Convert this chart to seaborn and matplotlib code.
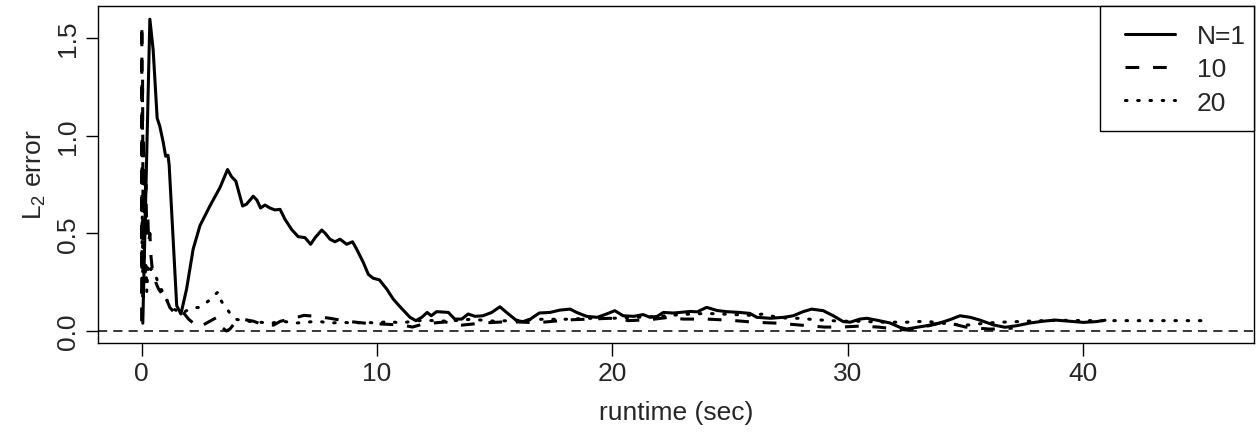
import numpy as np
import pandas as pd
import matplotlib
matplotlib.use("Agg")
import matplotlib.pyplot as plt
from matplotlib.patches import Rectangle
import seaborn as sns

# L2 error versus runtime for three ensemble sizes N
n1_runtime = [0.05, 0.35, 0.49, 0.66, 0.77, 0.92, 1.02, 1.12, 1.17, 1.49,
              1.67, 1.91, 2.19, 2.48, 2.9, 3.33, 3.65, 3.82, 4.0, 4.29,
              4.46, 4.74, 4.9, 5.05, 5.24, 5.45, 5.66, 5.88, 6.09, 6.37,
              6.65, 6.94, 7.18, 7.37, 7.65, 7.8, 8.0, 8.21, 8.43, 8.71,
              8.96, 9.13, 9.42, 9.63, 9.84, 10.1, 10.41, 10.69, 10.97, 11.4,
              11.65, 11.9, 12.13, 12.3, 12.53, 13.03, 13.3, 13.6, 13.87, 14.16,
              14.5, 14.87, 15.22, 15.5, 15.93, 16.2, 16.5, 16.89, 17.35, 17.77,
              18.2, 18.48, 18.9, 19.35, 19.75, 20.1, 20.45, 20.9, 21.3, 21.6,
              21.9, 22.16, 22.58, 22.87, 23.3, 23.6, 24.0, 24.44, 24.85, 25.4,
              25.84, 26.13, 26.7, 27.27, 27.68, 28.1, 28.46, 28.95, 29.38, 29.8,
              30.1, 30.51, 30.8, 31.2, 31.79, 32.2, 32.5, 32.94, 33.35, 33.9,
              34.34, 34.76, 35.2, 35.6, 36.18, 36.67, 37.17, 37.74, 38.3, 38.8,
              39.4, 40.0, 40.55, 40.92]
n1_error = [0.04, 1.597, 1.44, 1.09, 1.05, 0.965, 0.895, 0.9, 0.85, 0.13,
            0.087, 0.215, 0.42, 0.54, 0.64, 0.735, 0.827, 0.79, 0.768, 0.64,
            0.65, 0.69, 0.67, 0.63, 0.645, 0.63, 0.62, 0.623, 0.572, 0.52,
            0.483, 0.478, 0.444, 0.478, 0.517, 0.5, 0.47, 0.457, 0.47, 0.444,
            0.457, 0.42, 0.35, 0.29, 0.27, 0.262, 0.215, 0.163, 0.125, 0.07,
            0.053, 0.07, 0.095, 0.078, 0.099, 0.095, 0.061, 0.061, 0.087, 0.075,
            0.078, 0.095, 0.124, 0.095, 0.053, 0.048, 0.06, 0.092, 0.095, 0.107,
            0.112, 0.095, 0.075, 0.07, 0.087, 0.104, 0.078, 0.075, 0.084, 0.07,
            0.075, 0.095, 0.092, 0.095, 0.1, 0.098, 0.121, 0.105, 0.099, 0.095,
            0.09, 0.07, 0.065, 0.07, 0.078, 0.099, 0.112, 0.104, 0.078, 0.048,
            0.045, 0.061, 0.065, 0.056, 0.041, 0.019, 0.01, 0.019, 0.027, 0.041,
            0.058, 0.078, 0.07, 0.056, 0.031, 0.019, 0.027, 0.041, 0.05, 0.056,
            0.05, 0.044, 0.048, 0.055]

n10_runtime = [0.0, 0.01, 0.02, 0.04, 0.06, 0.08, 0.1, 0.12, 0.15, 0.18,
               0.22, 0.26, 0.3, 0.35, 0.4, 0.45, 0.5, 0.6, 0.7, 0.8,
               0.9, 1.0, 1.1, 1.2, 1.35, 1.5, 1.65, 1.8, 2.0, 2.2,
               2.35, 2.6, 2.9, 3.2, 3.4, 3.6, 3.75, 3.95, 4.3, 4.75,
               5.2, 5.6, 5.9, 6.3, 6.9, 7.4, 8.0, 8.7, 9.5, 10.3,
               11.1, 11.5, 12.0, 12.9, 13.6, 14.5, 15.3, 16.0, 16.8, 17.5,
               18.35, 19.05, 19.9, 20.7, 21.6, 22.4, 23.0, 24.0, 25.0, 26.0,
               27.0, 28.0, 29.0, 29.7, 30.5, 31.3, 32.0, 32.5, 33.2, 33.9,
               34.5, 35.0, 35.5, 36.0, 36.5, 37.0]
n10_error = [0.05, 1.57, 0.3, 1.3, 0.6, 1.0, 0.45, 0.8, 0.55, 0.75,
             0.5, 0.6, 0.45, 0.5, 0.38, 0.32, 0.3, 0.25, 0.22, 0.2,
             0.22, 0.18, 0.15, 0.12, 0.1, 0.08, 0.1, 0.09, 0.06, 0.04,
             0.02, 0.03, 0.05, 0.07, 0.02, 0.0, 0.01, 0.04, 0.06, 0.05,
             0.03, 0.03, 0.05, 0.06, 0.08, 0.075, 0.065, 0.05, 0.04, 0.035,
             0.03, 0.02, 0.037, 0.046, 0.03, 0.041, 0.046, 0.046, 0.042, 0.05,
             0.058, 0.061, 0.065, 0.053, 0.058, 0.07, 0.061, 0.061, 0.055, 0.045,
             0.04, 0.03, 0.02, 0.02, 0.025, 0.02, 0.01, 0.005, 0.02, 0.04,
             0.035, 0.02, 0.015, 0.01, 0.01, 0.015]

n20_runtime = [0.0, 0.03, 0.06, 0.1, 0.14, 0.18, 0.22, 0.27, 0.32, 0.4,
               0.5, 0.6, 0.7, 0.8, 0.9, 1.0, 1.1, 1.25, 1.4, 1.55,
               1.7, 1.85, 2.0, 2.2, 2.4, 2.6, 2.8, 3.0, 3.15, 3.25,
               3.4, 3.6, 3.8, 4.0, 4.5, 5.0, 5.5, 6.0, 6.5, 7.0,
               7.5, 8.0, 8.5, 9.0, 9.5, 10.0, 10.5, 11.0, 11.5, 12.0,
               13.0, 14.0, 15.0, 16.0, 17.0, 18.0, 19.0, 20.0, 21.0, 22.0,
               23.0, 24.0, 25.0, 25.9, 26.4, 27.0, 27.5, 28.0, 28.4, 29.0,
               29.7, 30.5, 31.5, 32.5, 33.3, 34.0, 34.8, 35.2, 35.8, 36.5,
               37.2, 38.0, 39.0, 40.0, 41.0, 42.0, 43.0, 44.0, 45.1]
n20_error = [0.2, 0.6, 0.15, 0.5, 0.25, 0.35, 0.2, 0.33, 0.3, 0.32,
             0.3, 0.28, 0.25, 0.22, 0.2, 0.18, 0.15, 0.13, 0.11, 0.1,
             0.09, 0.1, 0.11, 0.12, 0.12, 0.13, 0.15, 0.17, 0.19, 0.2,
             0.15, 0.12, 0.08, 0.06, 0.05, 0.045, 0.04, 0.05, 0.04, 0.045,
             0.05, 0.04, 0.045, 0.04, 0.045, 0.04, 0.05, 0.04, 0.05, 0.055,
             0.05, 0.06, 0.05, 0.055, 0.06, 0.06, 0.065, 0.065, 0.07, 0.075,
             0.085, 0.09, 0.085, 0.08, 0.087, 0.07, 0.065, 0.065, 0.06, 0.055,
             0.05, 0.05, 0.045, 0.045, 0.05, 0.04, 0.031, 0.031, 0.04, 0.045,
             0.048, 0.052, 0.055, 0.053, 0.053, 0.053, 0.053, 0.053, 0.053]

series_labels = ["N=1", "10", "20"]
x_ticks = [0, 10, 20, 30, 40]
y_ticks = [0.0, 0.5, 1.0, 1.5]
y_tick_labels = ["0.0", "0.5", "1.0", "1.5"]

sns.set_theme(style="white")
plt.rcParams["font.family"] = ["Liberation Sans", "DejaVu Sans"]
plt.rcParams["mathtext.default"] = "regular"
FS = 19

df = pd.concat([
    pd.DataFrame({"runtime": n1_runtime, "err": n1_error, "N": series_labels[0]}),
    pd.DataFrame({"runtime": n10_runtime, "err": n10_error, "N": series_labels[1]}),
    pd.DataFrame({"runtime": n20_runtime, "err": n20_error, "N": series_labels[2]}),
], ignore_index=True)

W, H = 1257, 435
fig = plt.figure(figsize=(W / 100, H / 100), dpi=100)
L, R, T, B = 98.3, 1254, 6.7, 343.5
ax = fig.add_axes([L / W, (H - B) / H, (R - L) / W, (B - T) / H])

styles = {
    "N=1": dict(linestyle="-"),
    "10": dict(linestyle=(0, (4.5, 4.5))),
    "20": dict(linestyle=(0, (0.5, 3.5)), dash_capstyle="round"),
}
for lab in series_labels:
    sub = df[df["N"] == lab]
    sns.lineplot(data=sub, x="runtime", y="err", ax=ax, color="black",
                 lw=2.2, estimator=None, sort=False, label=lab, **styles[lab])

ax.axhline(0, color="black", lw=1.1, linestyle=(0, (6, 4)), zorder=1)

ax.set_xlim(-1.84, 47.25)
ax.set_ylim(-0.059, 1.666)
ax.set_xticks(x_ticks)
ax.set_xticklabels([str(t) for t in x_ticks], fontsize=FS)
ax.set_yticks(y_ticks)
ax.set_yticklabels(y_tick_labels, fontsize=FS, rotation=90, va="center")
ax.tick_params(axis="both", direction="out", length=9, width=1.0,
               color="black", pad=4, bottom=True, left=True)
for s in ax.spines.values():
    s.set_visible(True)
    s.set_color("black")
    s.set_linewidth(1.0)

ax.set_xlabel("runtime (sec)", fontsize=FS, labelpad=11)
ax.set_ylabel(r"L$_2$ error", fontsize=FS, labelpad=6)

# legend box anchored in the top-right corner of the plotting region
box_left = (1100 - L) / (R - L)
box_bottom = (B - 132) / (B - T)
ax.add_patch(Rectangle((box_left, box_bottom), 1 - box_left, 1 - box_bottom,
                       transform=ax.transAxes, facecolor="white",
                       edgecolor="black", lw=1.0, zorder=4.5, clip_on=False))
leg = ax.legend(loc="upper right", bbox_to_anchor=(1 + 10 / (R - L), 1.0),
                borderaxespad=0, frameon=False, fontsize=FS,
                handlelength=1.9, handletextpad=0.8, labelspacing=0.35,
                borderpad=0.7)
leg.set_zorder(5)

fig.savefig("out.png", dpi=100)
